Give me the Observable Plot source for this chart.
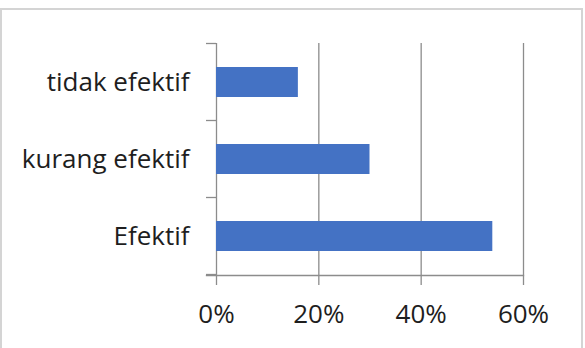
<!DOCTYPE html>
<html>
<head>
<meta charset="utf-8">
<script src="https://cdn.jsdelivr.net/npm/d3@7"></script>
<script src="https://cdn.jsdelivr.net/npm/@observablehq/plot@0.6"></script>
<style>
  html, body { margin: 0; padding: 0; background: #fff; }
  #wrap { position: relative; width: 585px; height: 348px; overflow: hidden; }
  #border { position: absolute; left: 0px; top: 8px; width: 583px; height: 350px; border: 2px solid #d4d4d4; box-sizing: border-box; }
  #chart { position: absolute; left: 0; top: 0; }
</style>
</head>
<body>
<div id="wrap"><div id="border"></div><div id="chart"></div></div>
<script>
const categories = ["tidak efektif", "kurang efektif", "Efektif"];
const values = [0.16, 0.30, 0.54];
const xTicks = [0, 0.2, 0.4, 0.6];

const data = categories.map((c, i) => ({category: c, value: values[i]}));
const gray = "#8c8c8c";
const textColor = "#1e1e1e";
const font = "'Open Sans', sans-serif";

const chart = Plot.plot({
  width: 585,
  height: 348,
  marginLeft: 216,
  marginRight: 62,
  marginTop: 43,
  marginBottom: 73,
  style: {fontFamily: font, fontSize: "26px", color: textColor, background: "transparent"},
  x: {domain: [0, 0.6], ticks: xTicks, tickFormat: d3.format(".0%"), label: null},
  y: {domain: categories, paddingInner: 0.605, paddingOuter: 0.3025, label: null},
  marks: [
    Plot.ruleX(xTicks, {stroke: gray, strokeWidth: 1.3, insetBottom: -10}),
    Plot.barX(data, {x: "value", y: "category", fill: "#4472C4"}),
    Plot.frame({anchor: "bottom", stroke: gray, strokeWidth: 1.3, insetLeft: -10}),
    Plot.axisX({ticks: xTicks, tickSize: 0, tickPadding: 29, tickFormat: d3.format(".0%"), fontSize: 26, fill: textColor}),
    Plot.axisY({tickSize: 0, tickPadding: 27, fontSize: 26, fill: textColor})
  ]
});

document.getElementById("chart").appendChild(chart);

// category boundary ticks on the y axis, derived from the band scale
const ys = chart.scale("y");
const xs = chart.scale("x");
const x0 = xs.apply(0);
const gap = (ys.step - ys.bandwidth) / 2;
const bounds = categories.map(c => ys.apply(c) - gap);
bounds.push(ys.apply(categories[categories.length - 1]) + ys.bandwidth + gap);
const svg = d3.select(chart);
svg.append("g")
  .selectAll("line")
  .data(bounds)
  .join("line")
  .attr("x1", x0 - 10)
  .attr("x2", x0)
  .attr("y1", d => d)
  .attr("y2", d => d)
  .attr("stroke", gray)
  .attr("stroke-width", 1.3);
</script>
</body>
</html>
